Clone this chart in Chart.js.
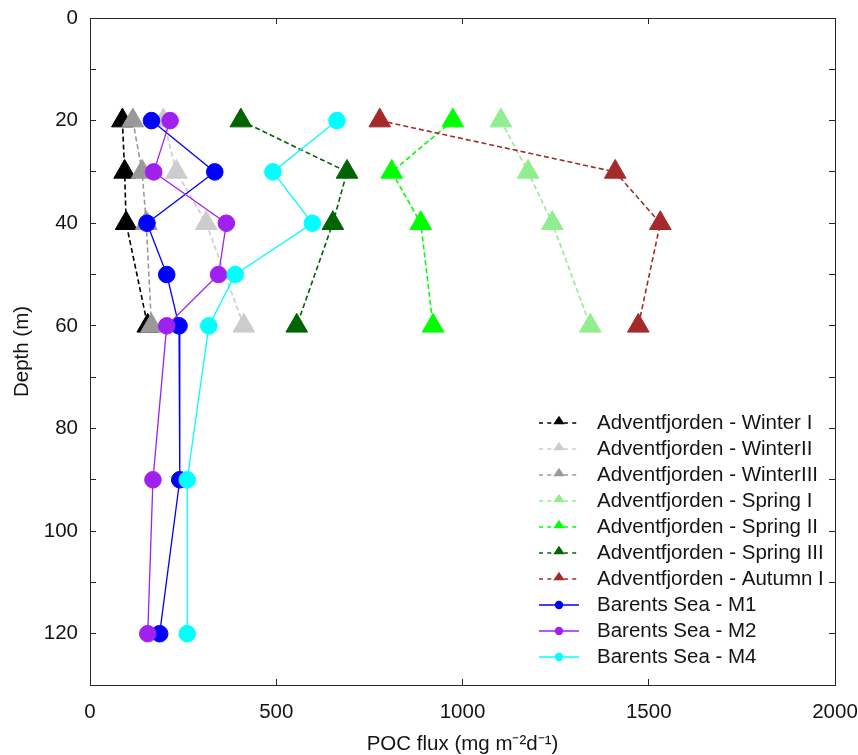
<!DOCTYPE html>
<html>
<head>
<meta charset="utf-8">
<script src="https://cdn.jsdelivr.net/npm/chart.js@4.4.1/dist/chart.umd.min.js"></script>
<style>
  html, body { margin: 0; padding: 0; background: #ffffff; }
  #wrap { width: 858px; height: 755px; position: relative; }
</style>
</head>
<body>
<div id="wrap"><canvas id="poc" width="858" height="755"></canvas></div>
<script>
// Trap depths (m)
const fjordDepths   = [20, 30, 40, 60];
const barentsDepths = [20, 30, 40, 50, 60, 90, 120];

// POC flux (mg m-2 d-1), one value per trap depth
const winterI   = [87, 93, 97, 155];
const winterII  = [197, 232, 312, 413];
const winterIII = [115, 140, 151, 165];
const springI   = [1103, 1176, 1241, 1343];
const springII  = [974, 810, 888, 921];
const springIII = [405, 690, 652, 555];
const autumnI   = [778, 1410, 1531, 1472];
const barentsM1 = [165, 335, 153, 206, 239, 241, 187];
const barentsM2 = [215, 171, 366, 345, 206, 169, 155];
const barentsM4 = [663, 491, 597, 390, 319, 261, 261];

const seriesNames = [
  'Adventfjorden - Winter I', 'Adventfjorden - WinterII', 'Adventfjorden - WinterIII',
  'Adventfjorden - Spring I', 'Adventfjorden - Spring II', 'Adventfjorden - Spring III',
  'Adventfjorden - Autumn I', 'Barents Sea - M1', 'Barents Sea - M2', 'Barents Sea - M4'
];

// Axis ticks
const fluxTicks  = [0, 500, 1000, 1500, 2000];
const depthTicks = [0, 20, 40, 60, 80, 100, 120];

// ---- styling ----
const FONT = "'Liberation Sans', Arial, sans-serif";
const TEXT = '#141414';
const FRAME = '#262626';
const seriesColors = ['#000000', '#cccccc', '#999999', '#90ee90', '#00ff00', '#006400', '#a52a2a', '#0000ff', '#a020f0', '#00ffff'];

const seriesData = [
  [fjordDepths, winterI], [fjordDepths, winterII], [fjordDepths, winterIII],
  [fjordDepths, springI], [fjordDepths, springII], [fjordDepths, springIII],
  [fjordDepths, autumnI],
  [barentsDepths, barentsM1], [barentsDepths, barentsM2], [barentsDepths, barentsM4]
];

// Legend symbols: a short line sample with a small marker in the middle
function legendIcon(color, dashed) {
  const c = document.createElement('canvas');
  c.width = 40; c.height = 16;
  const g = c.getContext('2d');
  g.strokeStyle = color;
  g.lineWidth = 1.4;
  if (dashed) g.setLineDash([4, 4.3]);
  g.beginPath(); g.moveTo(0, 8); g.lineTo(40, 8); g.stroke();
  g.setLineDash([]);
  g.fillStyle = color;
  g.beginPath();
  if (dashed) {
    g.moveTo(20, 0.8); g.lineTo(25.7, 9.3); g.lineTo(14.3, 9.3); g.closePath();
  } else {
    g.arc(20, 8, 4.2, 0, Math.PI * 2);
  }
  g.fill();
  return c;
}

const n = seriesNames.length;
const datasets = seriesNames.map((name, i) => {
  const [depths, flux] = seriesData[i];
  const fjord = depths === fjordDepths;
  const color = seriesColors[i];
  return {
    label: name,
    data: depths.map((d, k) => ({ x: flux[k], y: d })),
    showLine: true,
    borderColor: color,
    backgroundColor: color,
    borderWidth: fjord ? 1.6 : 1.3,
    borderDash: fjord ? [5, 3] : [],
    pointStyle: fjord ? 'triangle' : 'circle',
    pointRadius: fjord ? 12.5 : 8.3,
    pointHoverRadius: fjord ? 12.5 : 8.3,
    pointBorderWidth: 1,
    pointBackgroundColor: color,
    pointBorderColor: color,
    tension: 0,
    order: n - i
  };
});
const legendIcons = datasets.map((ds, i) => legendIcon(seriesColors[i], seriesData[i][0] === fjordDepths));

// Puts the legend box in the lower right of the plot area
const legendPlacement = {
  id: 'legendPlacement',
  afterLayout(chart) {
    const lg = chart.legend;
    if (!lg) return;
    lg.left = 525.75; lg.top = 407.25;
    lg.right = chart.chartArea.right; lg.bottom = 755;
    lg.width = lg.right - lg.left; lg.height = lg.bottom - lg.top;
  }
};

const tickFont = { family: FONT, size: 20.5 };

function frameAxis(axis, position, min, max, step) {
  return {
    type: 'linear', position, min, max,
    reverse: axis === 'y',
    ticks: { display: false, stepSize: step },
    grid: { drawOnChartArea: false, tickLength: -6, color: FRAME, tickColor: FRAME, lineWidth: 1 },
    border: { display: true, color: FRAME, width: 1 },
    afterFit(s) {
      if (axis === 'x') { s.height = 0; s.paddingLeft = 0; s.paddingRight = 0; }
      else { s.width = 0; s.paddingTop = 0; s.paddingBottom = 0; }
    }
  };
}

new Chart(document.getElementById('poc'), {
  type: 'scatter',
  data: { datasets },
  plugins: [legendPlacement],
  options: {
    responsive: false,
    devicePixelRatio: 1,
    animation: false,
    events: [],
    layout: { padding: { left: 0, top: 18, right: 23, bottom: 0 } },
    scales: {
      x: {
        type: 'linear', position: 'bottom',
        min: fluxTicks[0], max: fluxTicks[fluxTicks.length - 1],
        ticks: {
          stepSize: fluxTicks[1] - fluxTicks[0],
          color: TEXT, font: tickFont, padding: 21, maxRotation: 0,
          callback: v => fluxTicks.includes(v) ? String(v) : ''
        },
        grid: { drawOnChartArea: false, tickLength: -6, color: FRAME, tickColor: FRAME },
        border: { display: true, color: FRAME, width: 1 },
        title: {
          display: true, text: 'POC flux (mg m\u207B\u00B2d\u207B\u00B9)',
          color: TEXT, font: { family: FONT, size: 20.5, lineHeight: 1 },
          padding: { top: 0, bottom: 0 }
        },
        afterFit(s) { s.height = 70; s.paddingLeft = 0; s.paddingRight = 0; }
      },
      y: {
        type: 'linear', position: 'left', reverse: true,
        min: 0, max: 130,
        ticks: {
          stepSize: 10, autoSkip: false,
          color: TEXT, font: tickFont, padding: 18,
          callback: v => depthTicks.includes(v) ? String(v) : ''
        },
        grid: { drawOnChartArea: false, tickLength: -6, color: FRAME, tickColor: FRAME },
        border: { display: true, color: FRAME, width: 1 },
        title: {
          display: true, text: 'Depth (m)',
          color: TEXT, font: { family: FONT, size: 20.5, lineHeight: 1 },
          padding: { top: 12, bottom: 0 }
        },
        afterFit(s) { s.width = 90; s.paddingTop = 0; s.paddingBottom = 0; }
      },
      x2: frameAxis('x', 'top', fluxTicks[0], fluxTicks[fluxTicks.length - 1], fluxTicks[1] - fluxTicks[0]),
      y2: frameAxis('y', 'right', 0, 130, 10)
    },
    plugins: {
      tooltip: { enabled: false },
      title: { display: false },
      legend: {
        display: true,
        position: 'chartArea',
        align: 'start',
        labels: {
          usePointStyle: true,
          pointStyleWidth: 55.5,
          padding: 5.5,
          color: TEXT,
          font: { family: FONT, size: 20.5 },
          sort: (a, b) => a.datasetIndex - b.datasetIndex,
          generateLabels(chart) {
            const items = Chart.defaults.plugins.legend.labels.generateLabels(chart);
            items.forEach(it => { it.pointStyle = legendIcons[it.datasetIndex]; it.fontColor = TEXT; });
            return items;
          }
        }
      }
    }
  }
});
</script>
</body>
</html>
